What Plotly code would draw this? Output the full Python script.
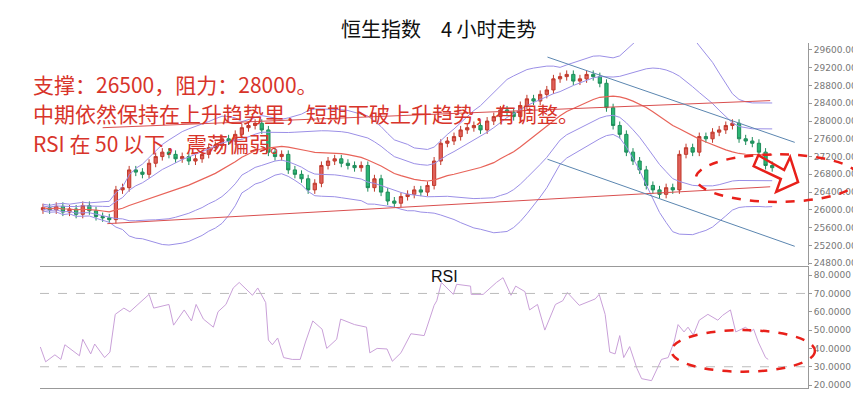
import plotly.graph_objects as go
import pandas as pd
import numpy as np

closes = [26050, 26000, 26080, 25950, 26020, 25900, 26100, 25980, 25850, 25820, 25780,
          26450, 26500, 26900, 26850, 26800, 27050, 27200,
          27300, 27250, 27150, 27200, 27100, 27150, 27250,
          27400, 27450, 27600, 27550, 27700, 27850, 27900, 27950,
          27800, 27300, 27200, 27250, 26900, 26800, 26700, 26450,
          26600, 27000, 27100, 27150, 27050, 27000, 26950, 27000,
          26500, 26700, 26400, 26200, 26150, 26300, 26350, 26450,
          26400, 26550, 27100, 27500, 27550, 27650, 27800,
          27850, 27900, 27800, 28000, 28100, 28250, 28200, 28100,
          28350, 28500, 28450, 28600, 28700, 28950, 29000,
          29050, 28900, 28950, 29050, 29000, 28850,
          28300, 27900, 27700, 27300, 27100, 26900, 26550, 26450,
          26350, 26500, 26450, 27250, 27400,
          27300, 27650, 27600, 27750, 27800, 27900, 27950,
          27600, 27550, 27500, 27300, 27000, 26950]
first_open = 26000
wick = 90

rsi_idx = [-0.4, 0.4, 1.8, 2.7, 3.3, 5.5, 6.0, 7.2, 7.8, 9.3, 10.1, 10.9, 12.2, 13.1, 16.0, 16.7,
           19.0, 19.7, 21.3, 22.4, 23.1, 24.2, 25.7, 26.4, 27.6, 28.7, 29.6, 31.6, 32.4, 33.6, 34.0,
           34.6, 35.4, 36.3, 37.6, 38.8, 39.6, 40.7, 42.1, 42.8, 44.3, 44.9, 47.0, 48.8, 49.3, 50.4,
           51.9, 52.7, 54.0, 55.5, 57.5, 58.2, 59.0, 59.4, 60.1, 61.9, 62.4, 64.5, 64.6, 66.4, 68.4,
           69.4, 70.6, 71.3, 72.7, 73.4, 74.6, 75.7, 77.3, 78.4, 79.1, 80.9, 83.3, 83.9, 84.8, 85.5,
           86.3, 87.0, 87.6, 88.5, 89.6, 90.3, 91.8, 93.3, 94.3, 95.2, 95.8, 96.7, 97.3, 98.1, 99.0,
           100.3, 101.8, 102.5, 103.7, 104.5, 106.0, 106.7, 107.2, 107.9, 109.0, 109.4]
rsi_val = [40.8, 32.7, 36.5, 34, 42, 36, 45, 37, 42.4, 35, 38, 58.6, 62, 60, 69.5, 62,
           64, 52.7, 61, 55, 64, 56, 51.6, 60, 64, 73, 76, 69, 73, 65, 44.6,
           42, 45.7, 35, 34, 34, 43.5, 55, 50.5, 40, 45, 56, 53, 51.6, 37.6, 40,
           39.7, 33, 37.6, 48, 47, 55, 63.5, 66, 76, 69.5, 75, 74, 69.5, 69.5, 76,
           78.6, 69, 74, 71, 61, 64, 50, 64, 66, 70.5, 63.5, 67, 69.5, 58.6, 38,
           37, 47, 35, 41, 29, 23.5, 22.4, 34, 35, 43.5, 53, 49, 51.6, 47.3, 55.4,
           58.6, 55.4, 58, 61, 49, 51.6, 49, 50.5, 43.5, 35, 34]

price_ticks = [24800, 25200, 25600, 26000, 26400, 26800, 27200, 27600, 28000, 28400, 28800, 29200, 29600]
rsi_ticks = [20, 30, 40, 50, 60, 70, 80]

# trend lines (bar index, price)
red_low = ([9.7, 109.7], [25690, 26520])
red_up = ([9.0, 109.7], [27850, 28460])
blue_up = ([76.1, 113.4], [29440, 27520])
blue_low = ([76.1, 113.4], [27140, 25180])

n = len(closes)
idx = list(range(n))
opens = [first_open] + closes[:-1]
highs = [max(o, c) + wick for o, c in zip(opens, closes)]
lows = [min(o, c) - wick for o, c in zip(opens, closes)]

s = pd.Series(closes, dtype=float)
mid = s.rolling(20, min_periods=1).mean()
sd = s.rolling(20, min_periods=2).std().bfill()

fig = go.Figure()
band_col = "#9b8fe6"
for k in (2.2, 1.1, -1.1, -2.2):
    fig.add_trace(go.Scatter(x=idx, y=mid + k * sd, mode="lines", line=dict(color=band_col, width=1),
                             hoverinfo="skip", showlegend=False))
fig.add_trace(go.Scatter(x=idx, y=mid, mode="lines", line=dict(color="#e8645a", width=1.2),
                         showlegend=False))
for (xs, ys), col in [(red_low, "#d94f4f"), (red_up, "#d94f4f"), (blue_up, "#5b86b0"), (blue_low, "#5b86b0")]:
    fig.add_trace(go.Scatter(x=xs, y=ys, mode="lines", line=dict(color=col, width=1), showlegend=False))

fig.add_trace(go.Candlestick(x=idx, open=opens, high=highs, low=lows, close=closes,
                             increasing=dict(line=dict(color="#c0392b", width=1), fillcolor="#e0605a"),
                             decreasing=dict(line=dict(color="#1e8c5a", width=1), fillcolor="#2bb673"),
                             whiskerwidth=0, showlegend=False))

fig.add_trace(go.Scatter(x=rsi_idx, y=rsi_val, mode="lines", line=dict(color="#c9a0d8", width=1),
                         xaxis="x2", yaxis="y2", showlegend=False))

red = "#d8342a"
xr = [-0.45, 115.4]
fig.update_layout(
    width=861, height=403, margin=dict(l=32, r=53, t=35, b=23),
    paper_bgcolor="white", plot_bgcolor="white",
    xaxis=dict(range=xr, domain=[0, 1], anchor="y", showticklabels=False, showgrid=False,
               zeroline=False, rangeslider=dict(visible=False)),
    xaxis2=dict(range=xr, domain=[0, 1], anchor="y2", showticklabels=False, showgrid=False, zeroline=False,
                showline=True, linecolor="#999", mirror=True),
    yaxis=dict(domain=[0.356, 1], range=[24755, 29757], side="right", tickvals=price_ticks,
               ticktext=[f"{v:.2f}" for v in price_ticks], showgrid=False, zeroline=False,
               showline=True, linecolor="#999", ticks="outside", ticklen=3, tickcolor="#999",
               tickfont=dict(size=9, color="#777", family="DejaVu Sans")),
    yaxis2=dict(domain=[0, 0.35], range=[18.4, 84.3], side="right", tickvals=rsi_ticks,
                ticktext=[f"{v:.4f}" for v in rsi_ticks], showgrid=False, zeroline=False,
                showline=True, linecolor="#999", ticks="outside", ticklen=3, tickcolor="#999",
                tickfont=dict(size=9, color="#777", family="DejaVu Sans")),
    shapes=[
        dict(type="line", xref="x2", yref="y2", x0=xr[0], x1=xr[1], y0=70, y1=70,
             line=dict(color="#bbb", width=1, dash="dash")),
        dict(type="line", xref="x2", yref="y2", x0=xr[0], x1=xr[1], y0=30, y1=30,
             line=dict(color="#bbb", width=1, dash="dash")),
        dict(type="circle", xref="paper", yref="y", x0=0.854, x1=1.067, y0=26180, y1=27250,
             line=dict(color="#e8201a", width=2.5, dash="dash")),
        dict(type="circle", xref="paper", yref="y2", x0=0.822, x1=1.009, y0=27.3, y1=50,
             line=dict(color="#e8201a", width=2.5, dash="dash")),
        dict(type="path", xref="x", yref="y",
             path="M107.9,27231 L111.8,26896 L112.7,27186 L113.9,26627 L110.6,26404 L111.3,26695 L107.2,26985 Z",
             line=dict(color="#e8201a", width=2.5), fillcolor="rgba(0,0,0,0)"),
    ],
    annotations=[
        dict(text="恒生指数　4 小时走势", xref="paper", yref="paper", x=0.52, y=1.0, yanchor="bottom",
             xanchor="center", showarrow=False, yshift=-2,
             font=dict(size=20, color="#111", family="Noto Sans CJK SC")),
        dict(text="支撑：26500，阻力：28000。", xref="paper", yref="paper", x=-0.012, y=0.93,
             xanchor="left", showarrow=False, font=dict(size=21, color=red, family="Noto Sans CJK SC")),
        dict(text="中期依然保持在上升趋势里，短期下破上升趋势，有调整。", xref="paper", yref="paper", x=-0.012, y=0.845,
             xanchor="left", showarrow=False, font=dict(size=21, color=red, family="Noto Sans CJK SC")),
        dict(text="RSI 在 50 以下，震荡偏弱。", xref="paper", yref="paper", x=-0.012, y=0.76,
             xanchor="left", showarrow=False, font=dict(size=21, color=red, family="Noto Sans CJK SC")),
        dict(text="RSI", xref="paper", yref="paper", x=0.527, y=0.355, yanchor="top", xanchor="center",
             showarrow=False, font=dict(size=16, color="#111", family="Liberation Sans")),
    ],
)
fig.write_html("out.html")
